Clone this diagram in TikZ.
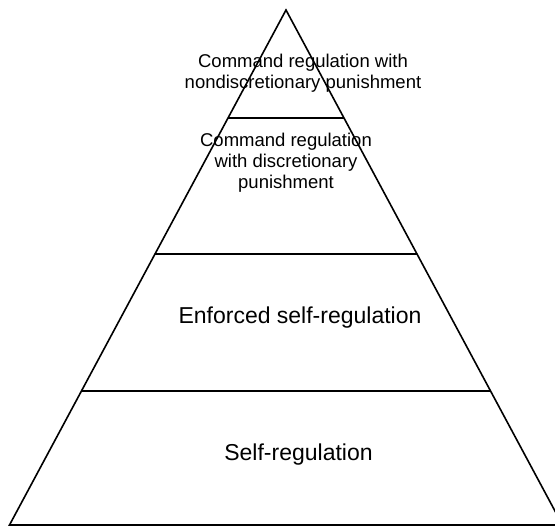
\documentclass[tikz,border=0pt]{standalone}
\usepackage{fontspec}
\setmainfont{Liberation Sans}
\usetikzlibrary{calc}

\begin{document}
\begin{tikzpicture}[x=1pt, y=-1pt, line width=1.6pt,
    small label/.style={font=\fontsize{18.5}{21.2}\selectfont, align=center},
    big label/.style={font=\fontsize{23}{26}\selectfont, anchor=base}]
    \useasboundingbox (0,0) rectangle (555,527);
    \clip (0,0) rectangle (555,527);

    % Outline of the pyramid
    \coordinate (apex) at (286,10);
    \coordinate (bl) at (9.5,525);
    \coordinate (br) at (562.5,525);
    \draw (bl) -- (apex) -- (br) -- cycle;

    % Levels
    \draw ($(apex)!0.2097!(bl)$) -- ($(apex)!0.2097!(br)$);
    \draw ($(apex)!0.4738!(bl)$) -- ($(apex)!0.4738!(br)$);
    \draw ($(apex)!0.7398!(bl)$) -- ($(apex)!0.7398!(br)$);

    % Labels
    \node[small label] (nondisc) at (303,73) {Command regulation with\\nondiscretionary punishment};
    \node[small label] (disc) at (286,163) {Command regulation\\with discretionary\\punishment};
    \node[big label] (enforced) at (300,323) {Enforced self-regulation};
    \node[big label] (self) at (298.5,460) {Self-regulation};
\end{tikzpicture}
\end{document}
